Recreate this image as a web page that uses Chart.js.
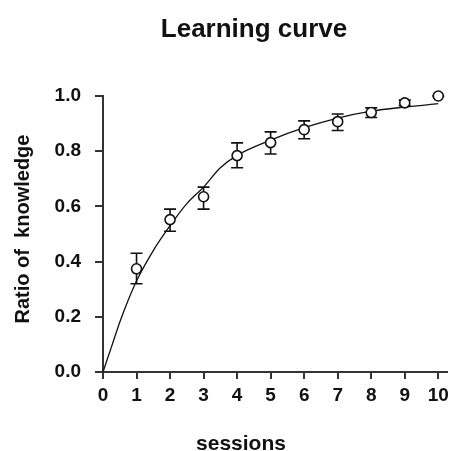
<!DOCTYPE html>
<html>
<head>
<meta charset="utf-8">
<script src="https://cdn.jsdelivr.net/npm/chart.js@4"></script>
<style>
  html, body { margin: 0; padding: 0; background: #fff; }
  #wrap { width: 454px; height: 451px; }
</style>
</head>
<body>
<div id="wrap"><canvas id="myChart" width="454" height="451"></canvas></div>
<script>
// measured points
const sessions = [1, 2, 3, 4, 5, 6, 7, 8, 9, 10];
const knowledge = [0.374, 0.552, 0.635, 0.784, 0.831, 0.878, 0.907, 0.94, 0.975, 1.0];
const errHigh = [0.43, 0.59, 0.67, 0.83, 0.87, 0.91, 0.935, 0.957, 0.985, 1.0];
const errLow = [0.32, 0.51, 0.59, 0.74, 0.79, 0.845, 0.875, 0.922, 0.965, 1.0];

// fitted curve
const curveX = [0, 0.25, 0.5, 0.75, 1, 1.5, 2, 2.5, 3, 3.5, 4, 5, 6, 7, 8, 9, 10];
const curveY = [0, 0.09, 0.18, 0.26, 0.33, 0.44, 0.53, 0.61, 0.67, 0.74, 0.785, 0.84, 0.885, 0.92, 0.945, 0.96, 0.972];

const yTicks = [0, 0.2, 0.4, 0.6, 0.8, 1.0];
const xTicks = [0, 1, 2, 3, 4, 5, 6, 7, 8, 9, 10];

const fontFam = '"Liberation Sans", Arial, sans-serif';

const errorBars = {
    id: 'errorBars',
    beforeDatasetsDraw(chart) {
        const ctx = chart.ctx;
        const x = chart.scales.x, y = chart.scales.y;
        ctx.save();
        ctx.strokeStyle = '#111';
        ctx.lineWidth = 1.6;
        sessions.forEach((s, i) => {
            const px = x.getPixelForValue(s);
            const top = y.getPixelForValue(errHigh[i]);
            const bot = y.getPixelForValue(errLow[i]);
            ctx.beginPath();
            ctx.moveTo(px, top); ctx.lineTo(px, bot);
            ctx.moveTo(px - 6, top); ctx.lineTo(px + 6, top);
            ctx.moveTo(px - 6, bot); ctx.lineTo(px + 6, bot);
            ctx.stroke();
        });
        ctx.restore();
    }
};

const texts = {
    id: 'texts',
    afterDraw(chart) {
        const ctx = chart.ctx;
        ctx.save();
        ctx.fillStyle = '#111';
        ctx.textAlign = 'center';
        ctx.textBaseline = 'alphabetic';
        ctx.font = 'bold 26px ' + fontFam;
        ctx.fillText('Learning curve', 254, 37);
        ctx.font = 'bold 21px ' + fontFam;
        ctx.fillText('sessions', 241, 450);
        ctx.translate(23, 229);
        ctx.rotate(-Math.PI / 2);
        ctx.textBaseline = 'middle';
        ctx.font = 'bold 20px ' + fontFam;
        ctx.fillText('Ratio of  knowledge', 0, 0);
        ctx.restore();
    }
};

const ctx = document.getElementById('myChart').getContext('2d');

const myChart = new Chart(ctx, {
    type: 'scatter',
    data: {
        datasets: [{
            data: sessions.map((s, i) => ({ x: s, y: knowledge[i] })),
            showLine: false,
            pointRadius: 5,
            pointBorderWidth: 1.6,
            pointBorderColor: '#111',
            pointBackgroundColor: '#fff',
            clip: false,
            order: 0
        }, {
            data: curveX.map((v, i) => ({ x: v, y: curveY[i] })),
            showLine: true,
            pointRadius: 0,
            borderColor: '#111',
            borderWidth: 1.3,
            cubicInterpolationMode: 'monotone',
            clip: false,
            order: 1
        }]
    },
    options: {
        responsive: false,
        animation: false,
        layout: { padding: { top: 96, left: 0, right: 0, bottom: 0 } },
        plugins: {
            legend: { display: false },
            tooltip: { enabled: false },
            title: { display: false }
        },
        scales: {
            x: {
                type: 'linear',
                min: 0,
                max: 10.26,
                afterBuildTicks: (scale) => { scale.ticks = xTicks.map(v => ({ value: v })); },
                afterFit: (scale) => { scale.height = 79; },
                border: { display: true, color: '#333', width: 2 },
                grid: { drawOnChartArea: false, drawTicks: true, tickLength: 7, color: '#333', lineWidth: 2 },
                ticks: {
                    color: '#111',
                    padding: 5,
                    maxRotation: 0,
                    font: { family: fontFam, size: 19, weight: 'bold' },
                    callback: (v) => String(v)
                }
            },
            y: {
                type: 'linear',
                min: 0,
                max: 1,
                afterBuildTicks: (scale) => { scale.ticks = yTicks.map(v => ({ value: v })); },
                afterFit: (scale) => { scale.width = 103; },
                border: { display: true, color: '#333', width: 2 },
                grid: { drawOnChartArea: false, drawTicks: true, tickLength: 8, color: '#333', lineWidth: 2 },
                ticks: {
                    color: '#111',
                    padding: 14,
                    font: { family: fontFam, size: 19, weight: 'bold' },
                    callback: (v) => v.toFixed(1)
                }
            }
        }
    },
    plugins: [errorBars, texts]
});
</script>
</body>
</html>
